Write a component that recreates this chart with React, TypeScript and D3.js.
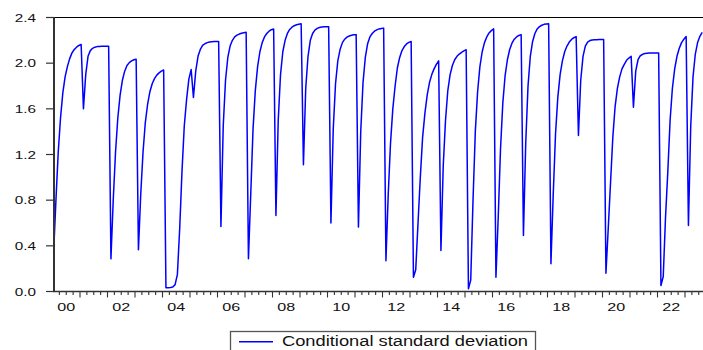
import React from "react";
import * as d3 from "d3";

// ---- data (monthly, Jan 2000 onward) ----
const startYear = 2000;
const monthlySD: number[] = [
  // 2000 + Jan 2001
  0.344, 0.80, 1.22, 1.52, 1.74, 1.88, 1.97, 2.04, 2.09, 2.12, 2.14, 2.155, 2.163,
  // 2001
  1.60, 1.90, 2.06, 2.11, 2.13, 2.14, 2.145, 2.147, 2.148, 2.149, 2.149, 2.149,
  // 2002
  0.286, 0.80, 1.22, 1.52, 1.72, 1.85, 1.93, 1.98, 2.005, 2.02, 2.03, 2.035,
  // 2003
  0.365, 0.85, 1.22, 1.48, 1.64, 1.75, 1.82, 1.865, 1.895, 1.915, 1.93, 1.94,
  // 2004
  0.032, 0.033, 0.035, 0.04, 0.06, 0.15, 0.55, 1.05, 1.45, 1.68, 1.86, 1.944,
  // 2005
  1.70, 1.93, 2.06, 2.12, 2.155, 2.17, 2.18, 2.185, 2.188, 2.19, 2.19, 2.19,
  // 2006
  0.57, 1.45, 1.85, 2.05, 2.15, 2.20, 2.23, 2.245, 2.255, 2.262, 2.267, 2.27,
  // 2007
  0.286, 0.85, 1.42, 1.76, 1.97, 2.10, 2.18, 2.23, 2.26, 2.28, 2.293, 2.30,
  // 2008
  0.666, 1.50, 1.90, 2.10, 2.20, 2.26, 2.295, 2.315, 2.328, 2.336, 2.341, 2.345,
  // 2009
  1.11, 1.78, 2.06, 2.20, 2.26, 2.29, 2.305, 2.312, 2.316, 2.318, 2.32, 2.32,
  // 2010
  0.60, 1.42, 1.82, 2.02, 2.12, 2.18, 2.21, 2.228, 2.238, 2.244, 2.248, 2.25,
  // 2011
  0.564, 1.40, 1.83, 2.05, 2.17, 2.23, 2.26, 2.28, 2.292, 2.30, 2.304, 2.307,
  // 2012
  0.27, 0.85, 1.30, 1.60, 1.80, 1.96, 2.05, 2.11, 2.145, 2.168, 2.182, 2.19,
  // 2013
  0.125, 0.19, 0.60, 1.00, 1.35, 1.56, 1.72, 1.83, 1.90, 1.95, 1.99, 2.02,
  // 2014
  0.36, 1.10, 1.50, 1.76, 1.90, 1.98, 2.03, 2.06, 2.08, 2.095, 2.108, 2.117,
  // 2015
  0.024, 0.10, 0.80, 1.40, 1.75, 1.97, 2.10, 2.18, 2.23, 2.265, 2.285, 2.30,
  // 2016
  0.125, 0.65, 1.25, 1.65, 1.89, 2.03, 2.12, 2.175, 2.21, 2.23, 2.243, 2.25,
  // 2017
  0.49, 1.30, 1.80, 2.06, 2.19, 2.26, 2.30, 2.32, 2.332, 2.34, 2.343, 2.345,
  // 2018
  0.243, 0.85, 1.38, 1.70, 1.90, 2.02, 2.10, 2.15, 2.185, 2.208, 2.223, 2.233,
  // 2019
  1.366, 1.85, 2.06, 2.15, 2.185, 2.198, 2.203, 2.205, 2.206, 2.207, 2.207, 2.207,
  // 2020
  0.16, 0.55, 0.95, 1.35, 1.62, 1.78, 1.88, 1.95, 1.99, 2.025, 2.045, 2.06,
  // 2021
  1.614, 1.93, 2.03, 2.065, 2.078, 2.084, 2.087, 2.089, 2.09, 2.09, 2.09, 2.09,
  // 2022
  0.053, 0.13, 0.65, 1.05, 1.50, 1.78, 1.95, 2.06, 2.13, 2.18, 2.21, 2.233,
  // 2023
  0.578, 1.45, 1.88, 2.08, 2.18, 2.235, 2.27,
];
const yTickValues = [0, 0.4, 0.8, 1.2, 1.6, 2.0, 2.4];
const xLabelYears = [2000, 2002, 2004, 2006, 2008, 2010, 2012, 2014, 2016, 2018, 2020, 2022];
const legendLabel = "Conditional standard deviation";

const W = 703;
const H = 350;
const left = 54;
const right = 703;
const top = 17.5;
const bottom = 291.5;
const font = "'Liberation Sans', Arial, sans-serif";

export default function App() {
  const x = d3.scaleLinear().domain([2000, 2024]).range([52.5, 712.5]);
  const y = d3.scaleLinear().domain([0, 2.4]).range([bottom, top]);

  const pts = monthlySD.map((v, i) => ({ t: startYear + (i + 0.5) / 12, v }));
  const line = d3
    .line<{ t: number; v: number }>()
    .x((d) => x(d.t))
    .y((d) => y(d.v));

  const minorTicks: number[] = [];
  const majorTicks: number[] = [];
  for (let yr = 2000; yr <= 2024; yr++) {
    for (let q = 0; q < 4; q++) {
      const t = yr + q / 4;
      const px = x(t);
      if (px <= left + 0.5 || px > right) continue;
      if (q === 0) majorTicks.push(t);
      else minorTicks.push(t);
    }
  }

  return (
    <svg
      width={W}
      height={H}
      style={{ position: "absolute", left: 0, top: 0, background: "#fff" }}
      fontFamily={font}
    >
      <rect x={0} y={0} width={W} height={H} fill="#fff" />
      {/* top border */}
      <line x1={left} x2={right} y1={top} y2={top} stroke="#000" strokeWidth={1} />
      {/* series */}
      <path d={line(pts) || ""} fill="none" stroke="#0000ff" strokeWidth={1.5} strokeLinejoin="round" />
      {/* left axis */}
      <line x1={left} x2={left} y1={top - 0.5} y2={bottom + 0.5} stroke="#333" strokeWidth={2} />
      {yTickValues.map((v) => (
        <g key={v}>
          <line x1={left - 8} x2={left} y1={y(v)} y2={y(v)} stroke="#333" strokeWidth={1.2} />
          <text
            transform={`translate(36,${y(v) + 4}) scale(1.33,1)`}
            textAnchor="end"
            fontSize={11.5}
            fill="#111"
          >
            {v.toFixed(1)}
          </text>
        </g>
      ))}
      {/* bottom axis */}
      <line x1={left - 1} x2={right} y1={bottom} y2={bottom} stroke="#333" strokeWidth={1.6} />
      {minorTicks.map((t) => (
        <line key={"m" + t} x1={x(t)} x2={x(t)} y1={bottom} y2={bottom + 3.5} stroke="#333" strokeWidth={1.1} />
      ))}
      {majorTicks.map((t) => (
        <line key={"M" + t} x1={x(t)} x2={x(t)} y1={bottom} y2={bottom + 6} stroke="#333" strokeWidth={1.1} />
      ))}
      {xLabelYears.map((yr) => (
        <text
          key={yr}
          transform={`translate(${x(yr + 0.5)},${311}) scale(1.4,1)`}
          textAnchor="middle"
          fontSize={11.5}
          fill="#111"
        >
          {String(yr % 100).padStart(2, "0")}
        </text>
      ))}
      {/* legend */}
      <rect x={230.5} y={331.5} width={305} height={30} fill="#fff" stroke="#555" strokeWidth={1.3} />
      <line x1={239} x2={273} y1={341.7} y2={341.7} stroke="#0000ff" strokeWidth={1.5} />
      <text x={282} y={346} fontSize={14} fill="#111" textLength={246} lengthAdjust="spacingAndGlyphs">
        {legendLabel}
      </text>
    </svg>
  );
}
